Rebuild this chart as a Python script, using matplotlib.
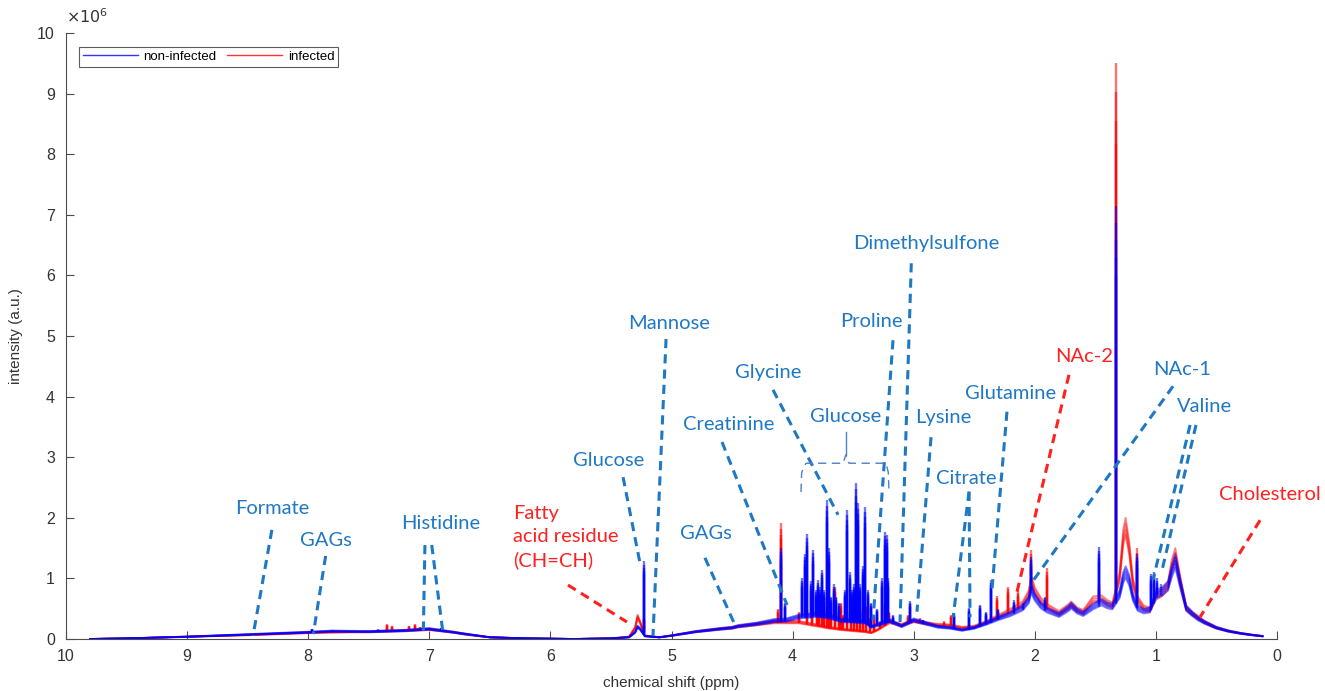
import numpy as np
import matplotlib.pyplot as plt
import matplotlib as mpl

BLUE = "#0000FF"; RED = "#FF0000"
LBLUE = "#1f78c4"; LRED = "#ff2020"; AXC = "#4d4d4d"
mpl.rcParams.update({"font.family": ["Liberation Sans", "DejaVu Sans"]})

# baseline of the spectra (ppm, intensity x1e6)
ppm_base = [9.8, 9.5, 9.0, 8.5, 8.0, 7.8, 7.5, 7.2, 7.0, 6.8, 6.7, 6.5, 6.2, 5.8, 5.5,
            5.35, 5.3, 5.28, 5.26, 5.22, 5.1, 5.0, 4.8, 4.6, 4.5, 4.45, 4.3, 4.15, 4.05,
            3.95, 3.8, 3.7, 3.6, 3.5, 3.4, 3.35, 3.3, 3.2, 3.1, 3.0, 2.9, 2.8, 2.7, 2.6,
            2.5, 2.4, 2.3, 2.2, 2.1, 2.05, 2.03, 2.0, 1.95, 1.9, 1.8, 1.72, 1.7, 1.65,
            1.6, 1.52, 1.45, 1.4, 1.36, 1.3, 1.27, 1.25, 1.22, 1.19, 1.15, 1.1, 1.05,
            1.0, 0.95, 0.9, 0.87, 0.84, 0.8, 0.75, 0.7, 0.65, 0.6, 0.5, 0.4, 0.3, 0.2, 0.12]
base_noninf = [0.0, 0.01, 0.04, 0.08, 0.12, 0.14, 0.13, 0.15, 0.18, 0.12, 0.09, 0.03, 0.01, 0.0, 0.01,
               0.03, 0.12, 0.22, 0.18, 0.05, 0.03, 0.06, 0.13, 0.18, 0.2, 0.23, 0.27, 0.33, 0.34,
               0.4, 0.43, 0.4, 0.33, 0.32, 0.3, 0.22, 0.25, 0.33, 0.23, 0.34, 0.28, 0.22, 0.2, 0.16,
               0.2, 0.28, 0.37, 0.45, 0.56, 0.7, 0.9, 0.75, 0.6, 0.52, 0.43, 0.55, 0.6, 0.5,
               0.45, 0.58, 0.66, 0.6, 0.58, 0.8, 1.1, 1.2, 1.05, 0.75, 0.55, 0.5, 0.52,
               0.8, 0.85, 0.95, 1.2, 1.4, 1.0, 0.55, 0.45, 0.36, 0.3, 0.2, 0.14, 0.1, 0.07, 0.05]
base_inf = [0.0, 0.01, 0.04, 0.07, 0.11, 0.12, 0.13, 0.15, 0.17, 0.12, 0.08, 0.03, 0.01, 0.0, 0.01,
            0.04, 0.2, 0.4, 0.3, 0.06, 0.03, 0.06, 0.13, 0.18, 0.2, 0.22, 0.26, 0.3, 0.3,
            0.3, 0.24, 0.2, 0.17, 0.15, 0.13, 0.11, 0.16, 0.3, 0.25, 0.32, 0.28, 0.25, 0.24, 0.2,
            0.22, 0.3, 0.4, 0.5, 0.62, 0.8, 1.05, 0.85, 0.68, 0.58, 0.46, 0.58, 0.62, 0.52,
            0.48, 0.7, 0.72, 0.64, 0.6, 1.1, 1.8, 2.0, 1.6, 1.0, 0.7, 0.55, 0.52,
            0.75, 0.82, 0.95, 1.3, 1.5, 1.05, 0.55, 0.45, 0.38, 0.3, 0.2, 0.14, 0.1, 0.07, 0.05]

# sharp resonances (ppm, top of the tallest sample)
peak_ppm_noninf = [7.97, 7.80, 7.42, 7.05, 6.90, 5.23, 4.10, 4.06, 3.92, 3.90, 3.88, 3.845, 3.83,
                   3.81, 3.79, 3.77, 3.76, 3.74, 3.72, 3.70, 3.68, 3.66, 3.64, 3.62, 3.57, 3.55,
                   3.53, 3.51, 3.495, 3.476, 3.46, 3.44, 3.42, 3.40, 3.38, 3.35, 3.30, 3.26, 3.24,
                   3.22, 3.21, 3.17, 3.03, 2.92, 2.67, 2.54, 2.45, 2.40, 2.36, 2.30, 2.17, 2.10,
                   2.03, 1.92, 1.47, 1.33, 1.16, 1.04, 1.02, 0.99, 0.96]
peak_h_noninf = [0.17, 0.15, 0.16, 0.2, 0.18, 1.28, 1.5, 0.6, 1.0, 1.41, 1.74, 0.95, 1.47,
                 0.8, 0.97, 0.85, 1.14, 0.8, 2.29, 1.5, 0.7, 0.9, 0.7, 0.6, 0.8, 2.13,
                 1.1, 0.8, 0.9, 2.57, 2.24, 0.9, 1.2, 2.18, 0.8, 0.6, 0.5, 1.0, 1.77,
                 1.72, 1.0, 0.4, 0.62, 0.32, 0.43, 0.51, 0.56, 0.45, 0.97, 0.5, 0.64, 0.6,
                 1.35, 0.7, 1.52, 7.15, 1.4, 1.08, 1.1, 1.0, 0.9]
peak_ppm_inf = [7.35, 7.31, 7.17, 7.12, 7.08, 5.23, 4.12, 4.10, 3.95, 3.88, 3.84, 3.80, 3.78,
                3.76, 3.74, 3.72, 3.70, 3.68, 3.65, 3.62, 3.60, 3.58, 3.55, 3.52, 3.49, 3.47,
                3.44, 3.42, 3.39, 3.36, 3.33, 3.28, 3.24, 3.20, 3.05, 2.95, 2.75, 2.69, 2.31,
                2.22, 2.14, 2.03, 1.90, 1.47, 1.33, 1.16]
peak_h_inf = [0.25, 0.22, 0.22, 0.25, 0.2, 0.35, 0.5, 1.91, 0.45, 0.5, 0.55, 0.6, 0.5,
              0.5, 0.55, 0.7, 0.6, 0.5, 0.86, 0.45, 0.6, 0.4, 0.45, 0.5, 0.6, 0.55,
              0.45, 0.5, 0.55, 0.35, 0.4, 0.3, 0.6, 0.45, 0.4, 0.35, 0.3, 0.4, 0.71,
              0.86, 0.8, 1.47, 1.17, 0.9, 9.5, 1.5]

# relative level of each sample
scale_noninf = [0.84, 0.88, 0.92, 0.96, 1.0]
scale_inf = [0.86, 0.9, 0.95, 1.0]

fig = plt.figure(figsize=(13.25, 6.91), dpi=100)
ax = fig.add_axes([0.0498, 0.0753, 0.914, 0.877])

xb = np.array(ppm_base)
for group, (bl, pp, ph, sc, col) in {
        "infected": (base_inf, peak_ppm_inf, peak_h_inf, scale_inf, RED),
        "non-infected": (base_noninf, peak_ppm_noninf, peak_h_noninf, scale_noninf, BLUE)}.items():
    bl = np.array(bl); pp = np.array(pp); ph = np.array(ph)
    foot = np.interp(pp, xb[::-1], bl[::-1])
    for s in sc:
        ax.plot(xb, bl * s, color=col, lw=1.3, alpha=0.5)
        ax.vlines(pp, foot * s, np.maximum(ph * s, foot * s), color=col, lw=1.7, alpha=0.55)

ax.set_xlim(10, 0)
ax.set_ylim(0, 10)
ax.set_xticks(range(10, -1, -1))
ax.set_yticks(range(0, 11))
for sp in ["top", "right"]:
    ax.spines[sp].set_visible(False)
for sp in ["left", "bottom"]:
    ax.spines[sp].set_color(AXC)
ax.tick_params(direction="in", length=6, colors=AXC, labelsize=11.5, labelcolor="#333333")
ax.tick_params(axis="x", pad=7)
ax.tick_params(axis="y", pad=8)
ax.set_xlabel("chemical shift (ppm)", fontsize=11, color="#333333", labelpad=9)
ax.set_ylabel("intensity (a.u.)", fontsize=11, color="#333333", labelpad=10)
ax.text(0.0, 1.012, r"$\times10^{6}$", transform=ax.transAxes, ha="left", va="bottom",
        fontsize=11.5, color="#333333")

h1, = ax.plot([], [], color=BLUE, lw=1, alpha=0.8)
h2, = ax.plot([], [], color=RED, lw=1, alpha=0.8)
leg = ax.legend([h1, h2], ["non-infected", "infected"], ncol=2, loc="upper left",
                bbox_to_anchor=(0.0105, 0.977), fontsize=9.5, frameon=True, fancybox=False,
                edgecolor="#333333", borderpad=0.3, handlelength=4.2, columnspacing=0.8,
                handletextpad=0.4, borderaxespad=0)
leg.get_frame().set_linewidth(0.8)

# metabolite labels: text, colour, text position, dashed leader segments
notes = [
    ("Formate", LBLUE, (8.30, 2.145), [((8.30, 1.80), (8.456, 0.05))]),
    ("GAGs", LBLUE, (7.853, 1.617), [((7.856, 1.37), (7.958, 0.08))]),
    ("Histidine", LBLUE, (6.903, 1.898), [((7.036, 1.55), (7.05, 0.05)), ((6.98, 1.55), (6.884, 0.05))]),
    ("Glucose", LBLUE, (5.516, 2.937), [((5.40, 2.67), (5.26, 1.25))]),
    ("Mannose", LBLUE, (5.02, 5.198), [((5.045, 4.95), (5.153, 0.05))]),
    ("GAGs", LBLUE, (4.715, 1.733), [((4.724, 1.34), (4.476, 0.23))]),
    ("Creatinine", LBLUE, (4.525, 3.531), [((4.583, 3.25), (4.046, 0.56))]),
    ("Glycine", LBLUE, (4.203, 4.389), [((4.162, 4.11), (3.625, 2.05))]),
    ("Glucose", LBLUE, (3.559, 3.663), []),
    ("Dimethylsulfone", LBLUE, (2.898, 6.518), [((3.02, 6.20), (3.113, 0.28))]),
    ("Proline", LBLUE, (3.353, 5.231), [((3.171, 4.93), (3.336, 0.31))]),
    ("Lysine", LBLUE, (2.758, 3.647), [((2.857, 3.33), (2.973, 0.45))]),
    ("Citrate", LBLUE, (2.568, 2.64), [((2.543, 2.43), (2.675, 0.36)), ((2.543, 2.43), (2.535, 0.36))]),
    ("Glutamine", LBLUE, (2.197, 4.043), [((2.23, 3.75), (2.354, 0.81))]),
    ("NAc-2", LRED, (1.594, 4.653), [((1.718, 4.36), (2.147, 0.78))]),
    ("NAc-1", LBLUE, (0.785, 4.439), [((0.859, 4.17), (2.04, 0.89))]),
    ("Valine", LBLUE, (0.603, 3.828), [((0.718, 3.531), (1.024, 0.974)), ((0.669, 3.531), (0.949, 1.139))]),
    ("Cholesterol", LRED, (0.058, 2.376), [((0.140, 1.96), (0.636, 0.36))]),
]
for txt, col, (tx, ty), segs in notes:
    ax.text(tx, ty, txt, color=col, fontsize=14.5, family="Lato", ha="center", va="center")
    for (x0, y0), (x1, y1) in segs:
        ax.plot([x0, x1], [y0, y1], color=col, lw=2.2, ls=(0, (3, 2)))

ax.text(6.309, 1.683, "Fatty\nacid residue\n(CH=CH)", color=LRED, fontsize=14.5, family="Lato",
        ha="left", va="center", linespacing=1.45)
ax.plot([5.855, 5.368], [0.89, 0.28], color=LRED, lw=2.2, ls=(0, (3, 2)))

# bracket over the glucose multiplets
bx = [3.931, 3.925, 3.89, 3.584, 3.56, 3.534, 3.229, 3.21, 3.204]
by = [2.426, 2.75, 2.90, 2.90, 3.04, 2.90, 2.90, 2.75, 2.426]
ax.plot(bx, by, color="#4f7fc4", lw=1.0, ls=(0, (6, 4)))
ax.plot([3.56, 3.56], [3.04, 3.42], color="#4f7fc4", lw=1.0)

fig.savefig("out.png", dpi=100, facecolor="white")
